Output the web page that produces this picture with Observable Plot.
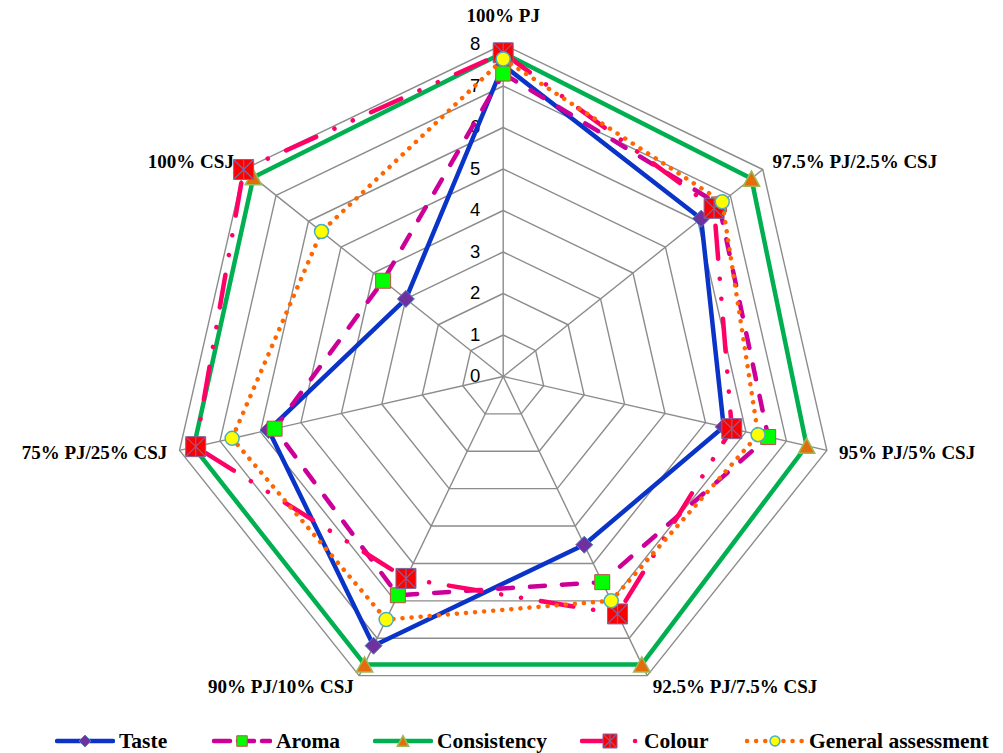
<!DOCTYPE html>
<html><head><meta charset="utf-8">
<script src="https://cdn.jsdelivr.net/npm/d3@7"></script>
<script src="https://cdn.jsdelivr.net/npm/@observablehq/plot@0.6"></script>
<style>
html,body{margin:0;padding:0;background:#fff;}
body{width:1003px;height:753px;overflow:hidden;}
#legend{position:relative;height:26px;font-family:"Liberation Serif","Times New Roman",serif;font-weight:bold;font-size:21.5px;color:#000;}
.item{position:absolute;top:0;height:26px;display:flex;align-items:center;white-space:nowrap;}
.item svg{display:block;margin-right:4px;}
</style></head>
<body><div id="chart"></div><div id="legend"></div>
<script>
// ---- data ----
const axes = ["100% PJ", "97.5% PJ/2.5% CSJ", "95% PJ/5% CSJ", "92.5% PJ/7.5% CSJ", "90% PJ/10% CSJ", "75% PJ/25% CSJ", "100% CSJ"];
const taste       = [7.5, 6.1, 5.45, 4.5, 7.2, 5.8, 3.0];
const aroma       = [7.3, 6.65, 6.55, 5.5, 5.85, 5.65, 3.7];
const consistency = [7.8, 7.65, 7.5, 7.7, 7.7, 7.65, 7.7];
const colour      = [7.8, 6.5, 5.65, 6.35, 5.4, 7.6, 8.0];
const general     = [7.65, 6.75, 6.3, 6.0, 6.5, 6.7, 5.6];
const ticks = [0, 1, 2, 3, 4, 5, 6, 7, 8];
const seriesNames = ["Taste", "Aroma", "Consistency", "Colour", "General assessment"];

// ---- symbols ----
const rad = size => Math.sqrt(size / Math.PI);
const symDiamond = {draw(c, s){const R = rad(s); c.moveTo(0,-R); c.lineTo(R,0); c.lineTo(0,R); c.lineTo(-R,0); c.closePath();}};
const symSquare = {draw(c, s){const R = rad(s); c.moveTo(-R,-R); c.lineTo(R,-R); c.lineTo(R,R); c.lineTo(-R,R); c.closePath();}};
const symTriangle = {draw(c, s){const R = rad(s); c.moveTo(0,-R); c.lineTo(1.08*R,R); c.lineTo(-1.08*R,R); c.closePath();}};
const symCircle = {draw(c, s){const R = rad(s); c.moveTo(R,0); c.arc(0,0,R,0,2*Math.PI);}};
const symStar = {draw(c, s){const R = rad(s); c.moveTo(-R,-R); c.lineTo(R,R); c.moveTo(-R,R); c.lineTo(R,-R); c.moveTo(0,-R); c.lineTo(0,R);}};

const styles = {
  "Taste": {stroke:"#0a33c8", dash:null, marks:[{symbol:symDiamond, r:8.5, fill:"#7030a0", stroke:"#4f81bd", sw:1}]},
  "Aroma": {stroke:"#cc0099", dash:"15,17", marks:[{symbol:symSquare, r:7.5, fill:"#00ff00", stroke:"#c0504d", sw:1}]},
  "Consistency": {stroke:"#00b050", dash:null, marks:[{symbol:symTriangle, r:7.6, fill:"#e46c0a", stroke:"#9bbb59", sw:1.5}]},
  "Colour": {stroke:"#ff0066", dash:"33,20,0.1,20,0.1,20", marks:[{symbol:symSquare, r:10, fill:"#ff0000", stroke:"#8064a2", sw:1},{symbol:symStar, r:9.5, fill:"none", stroke:"#8064a2", sw:1.2}]},
  "General assessment": {stroke:"#ff6600", dash:"0.1,9", marks:[{symbol:symCircle, r:7, fill:"#ffff00", stroke:"#4bacc6", sw:1.5}]}
};
const seriesValues = [taste, aroma, consistency, colour, general];

// ---- geometry from data ----
const n = axes.length;
const ang = i => 2 * Math.PI * i / n;
const toPts = vals => vals.map((v, i) => ({axis: axes[i], v, x: v * Math.sin(ang(i)), y: v * Math.cos(ang(i))}));
const closed = p => p.concat([p[0]]);
const maxV = d3.max(ticks);

const grid = [];
ticks.filter(t => t > 0).forEach(t => {
  for (let i = 0; i <= n; i++) grid.push({level: t, x: t * Math.sin(ang(i % n)), y: t * Math.cos(ang(i % n))});
});
const labelData = axes.map((a, i) => ({label: a, s: Math.sin(ang(i)), c: Math.cos(ang(i))}));

const marks = [
  Plot.line(grid, {x: "x", y: "y", z: "level", stroke: "#8c8c8c", strokeWidth: 1.4, curve: "linear"}),
  Plot.link(axes, {x1: () => 0, y1: () => 0, x2: (d, i) => maxV * Math.sin(ang(i)), y2: (d, i) => maxV * Math.cos(ang(i)), stroke: "#8c8c8c", strokeWidth: 1.4}),
  Plot.text(ticks, {x: () => 0, y: d => d, text: d => String(d), dx: -28, fontSize: 18.5, fontFamily: "Liberation Sans, Arial, sans-serif", fill: "#000"})
];

const labelFont = {fontFamily: "Liberation Serif, Times New Roman, serif", fontWeight: "bold", fontSize: 19, fill: "#000"};
marks.push(
  Plot.text(labelData.filter(d => Math.abs(d.s) < 0.01), {x: () => 0, y: () => maxV, text: "label", dy: -29, textAnchor: "middle", ...labelFont}),
  Plot.text(labelData.filter(d => d.s >= 0.01), {x: d => (maxV + 0.3) * d.s, y: d => (maxV + 0.3) * d.c, text: "label", textAnchor: "start", ...labelFont}),
  Plot.text(labelData.filter(d => d.s <= -0.01), {x: d => (maxV + 0.3) * d.s, y: d => (maxV + 0.3) * d.c, text: "label", textAnchor: "end", ...labelFont})
);

seriesNames.forEach((name, k) => {
  const st = styles[name];
  const p = toPts(seriesValues[k]);
  marks.push(Plot.line(closed(p), {x: "x", y: "y", stroke: st.stroke, strokeWidth: 4.5, strokeDasharray: st.dash || undefined, strokeLinecap: "round", strokeLinejoin: "round", curve: "linear"}));
  st.marks.forEach(m => {
    marks.push(Plot.dot(p, {x: "x", y: "y", symbol: m.symbol, r: m.r, fill: m.fill, stroke: m.stroke, strokeWidth: m.sw}));
  });
});

const W = 1003, H = 728;
const cx = 502.7, cy = 376, R = 332;
const chart = Plot.plot({
  width: W, height: H,
  marginLeft: cx - R, marginRight: W - cx - R,
  marginTop: cy - R, marginBottom: H - cy - R,
  x: {domain: [-maxV, maxV], axis: null},
  y: {domain: [-maxV, maxV], axis: null},
  style: {background: "#fff", overflow: "visible"},
  marks
});
document.getElementById("chart").appendChild(chart);

// ---- legend ----
const legendLeft = [55, 212, 373, 580, 745];
const legend = d3.select("#legend");
seriesNames.forEach((name, k) => {
  const st = styles[name];
  const item = legend.append("div").attr("class", "item").style("left", legendLeft[k] + "px");
  const svg = item.append("svg").attr("width", 60).attr("height", 26);
  const ln = svg.append("line").attr("x1", 2).attr("x2", 58).attr("y1", 13).attr("y2", 13)
    .attr("stroke", st.stroke).attr("stroke-width", 4.5).attr("stroke-linecap", "round");
  if (name === "Aroma") ln.attr("stroke-dasharray", "16,8");
  else if (name === "Colour") ln.attr("stroke-dasharray", "24,29,0.1,40");
  else if (st.dash) ln.attr("stroke-dasharray", st.dash);
  st.marks.forEach(m => {
    const rr = m.r * 0.7;
    svg.append("path").attr("transform", "translate(30,13)")
      .attr("d", d3.symbol().type(m.symbol).size(Math.PI * rr * rr)())
      .attr("fill", m.fill).attr("stroke", m.stroke).attr("stroke-width", m.sw);
  });
  item.append("span").text(name);
});
</script></body></html>
